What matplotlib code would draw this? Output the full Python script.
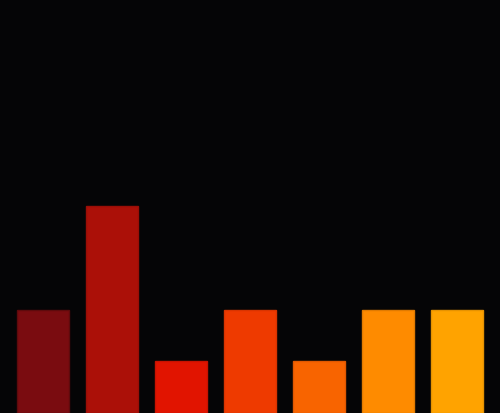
import matplotlib

matplotlib.use("Agg")
import matplotlib.pyplot as plt

# bar values
categories = ["A", "B", "C", "D", "E", "F", "G"]
values = [2, 4, 1, 2, 1, 2, 2]
colors = ["#7a0c10", "#ab1008", "#e11400", "#ee3a00", "#f86400", "#fe8b00", "#ffa300"]
edges = ["#5e0a0c", "#9a0e06", "#c81200", "#d83400", "#e05800", "#e07a00", "#e69200"]

fig = plt.figure(figsize=(5.0, 4.14), dpi=100)
fig.patch.set_facecolor("#050506")
ax = fig.add_axes([0, 0, 1, 1])
ax.set_facecolor("#050506")

x = list(range(len(categories)))
ax.bar(x, values, width=0.74, color=colors, edgecolor=edges, linewidth=1)

ax.set_xlim(-0.623, 6.623)
ax.set_ylim(0, 8)
ax.axis("off")

plt.savefig("out.png", dpi=100, facecolor=fig.get_facecolor())
